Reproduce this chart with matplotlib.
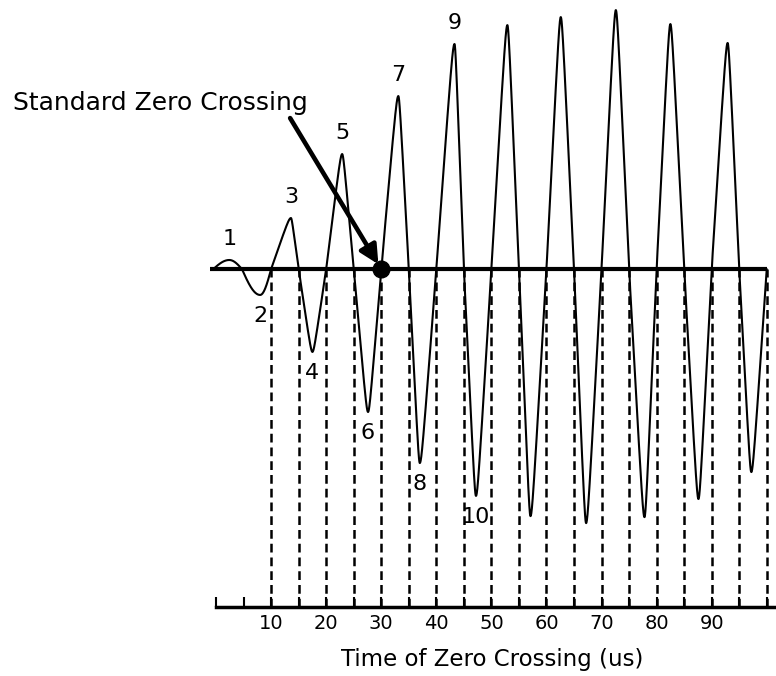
import numpy as np
import matplotlib.pyplot as plt

# zero crossings of the waveform (us); first two have no dashed line
crossing_t = [-0.5, 4.7, 10, 15, 20, 25, 30, 35, 40, 45, 50,
              55, 60, 65, 70, 75, 80, 85, 90, 95, 100]
# extremes between crossings (time, amplitude)
extreme_t = [2.4, 8.0, 13.6, 17.5, 22.9, 27.6, 33.1, 37.0, 43.3, 47.2,
             52.9, 57.1, 62.6, 67.2, 72.6, 77.8, 82.5, 87.6, 92.9, 97.2]
extreme_amp = [0.035, -0.10, 0.197, -0.32, 0.444, -0.552, 0.668, -0.749, 0.869, -0.876,
               0.942, -0.954, 0.973, -0.981, 1.0, -0.958, 0.946, -0.888, 0.873, -0.784]
extreme_labels = ['1', '2', '3', '4', '5', '6', '7', '8', '9', '10']

tick_t = [0, 5, 10, 15, 20, 25, 30, 35, 40, 45, 50,
          55, 60, 65, 70, 75, 80, 85, 90, 95, 100]
tick_text = ['', '', '10', '', '20', '', '30', '', '40', '', '50',
             '', '60', '', '70', '', '80', '', '90', '', '']

standard_t = 30


def half_wave(t_zero, t_ext, amp):
    # soft triangle from a crossing to an extreme: straight flank, rounded tip
    u = np.linspace(0, 1, 80)
    if abs(amp) < 0.15:
        f = np.sin(np.pi / 2 * u)
    else:
        e = 0.12
        x = 1 - u
        f = 1 - (np.sqrt(x**2 + e**2) - e) / (np.sqrt(1 + e**2) - e)
    t = t_zero + (t_ext - t_zero) * u
    return t, amp * f


ts, ys = [], []
for i in range(len(extreme_t)):
    t, y = half_wave(crossing_t[i], extreme_t[i], extreme_amp[i])
    ts.append(t)
    ys.append(y)
    t, y = half_wave(crossing_t[i + 1], extreme_t[i], extreme_amp[i])
    ts.append(t[::-1])
    ys.append(y[::-1])
wave_t = np.concatenate(ts)
wave_y = np.concatenate(ys)

fig = plt.figure(figsize=(7.76, 6.76), dpi=100)
ax = fig.add_axes([210 / 776, 69 / 676, 565 / 776, 607 / 676])
y_bot, y_top = -1.305, 1.039
ax.set_xlim(-1.1, 101.5)
ax.set_ylim(y_bot, y_top)

# dashed drop lines from each crossing
ax.vlines(crossing_t[2:], y_bot, 0, colors='black', lw=1.8,
          linestyles=(0, (3.5, 2)))
ax.hlines(0, -1.1, crossing_t[-1], colors='black', lw=3)
ax.plot(wave_t, wave_y, color='black', lw=1.5, solid_capstyle='round')
ax.plot([standard_t], [0], 'o', color='black', markersize=12, zorder=5)

for i, lab in enumerate(extreme_labels):
    off = 15 if extreme_amp[i] > 0 else -15
    ax.annotate(lab, (extreme_t[i], extreme_amp[i]), xytext=(0, off),
                textcoords='offset points', ha='center', va='center', fontsize=16)

ax.annotate('', xy=(standard_t, 0), xytext=(13.45, 0.583),
            arrowprops=dict(arrowstyle='-|>', lw=3.3, color='black',
                            mutation_scale=28, shrinkA=0, shrinkB=4))
fig.text(13 / 776, 1 - 103 / 676, 'Standard Zero Crossing', fontsize=18,
         ha='left', va='center')

for s in ['left', 'top', 'right']:
    ax.spines[s].set_visible(False)
ax.spines['bottom'].set_linewidth(2.5)
ax.spines['bottom'].set_bounds(0, 101.5)
ax.set_yticks([])
ax.set_xticks(tick_t)
ax.set_xticklabels(tick_text)
ax.tick_params(axis='x', direction='in', length=7, width=1.5, pad=5, labelsize=14)
ax.set_xlabel('Time of Zero Crossing (us)', fontsize=16.5, labelpad=11)

fig.savefig('out.png', dpi=100)
